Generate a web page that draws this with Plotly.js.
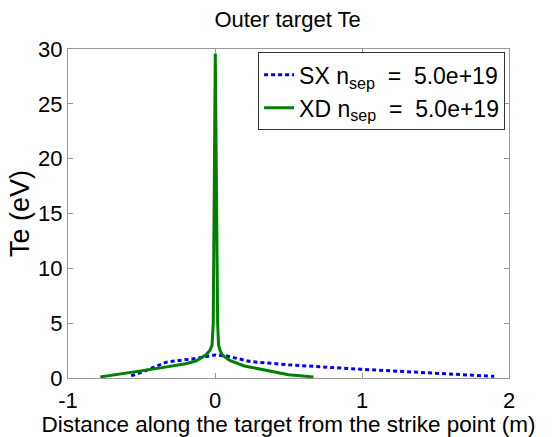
<!DOCTYPE html>
<html>
<head>
<script src="https://cdn.plot.ly/plotly-3.0.1.min.js"></script>
<style>html,body{margin:0;padding:0;background:#fff;}#chart{width:553px;height:437px;}</style>
</head>
<body>
<div id="chart"></div>
<script>
const sxX = [-0.57, -0.49, -0.33, -0.15, 0.0, 0.08, 0.24, 0.5, 0.99, 1.37, 1.9];
const sxY = [0.2, 0.57, 1.45, 1.75, 2.1, 2.0, 1.5, 1.2, 0.8, 0.5, 0.15];
const xdX = [-0.78, -0.6, -0.38, -0.2, -0.13, -0.063, -0.035, -0.02, -0.012, -0.008, -0.004, 0.002, 0.008, 0.013, 0.018, 0.024, 0.035, 0.05, 0.1, 0.2, 0.3, 0.4, 0.5, 0.67];
const xdY = [0.1, 0.45, 0.9, 1.3, 1.55, 2.1, 2.5, 3.0, 5, 12, 22, 29.6, 20, 10, 5, 3.0, 2.5, 2.1, 1.6, 1.1, 0.85, 0.55, 0.3, 0.1];
const labels = ['SX n<sub>sep</sub>  =  5.0e+19', 'XD n<sub>sep</sub>  =  5.0e+19'];

const FONT = 'Liberation Sans, Arial, sans-serif';
const traces = [
  {x: sxX, y: sxY, mode: 'lines', name: labels[0], line: {color: '#0000ff', width: 3, dash: '4px,3px'}},
  {x: xdX, y: xdY, mode: 'lines', name: labels[1], line: {color: '#008000', width: 3}}
];
const axcommon = {
  showgrid: false, zeroline: false, showline: true, linecolor: '#999', linewidth: 1,
  mirror: 'ticks', ticks: 'inside', ticklen: 5, tickcolor: '#999',
  tickfont: {family: FONT, size: 22, color: '#000'}
};
const layout = {
  width: 553, height: 437,
  margin: {l: 68, r: 44, t: 49, b: 59},
  paper_bgcolor: '#fff', plot_bgcolor: '#fff',
  title: {text: 'Outer target Te', font: {family: FONT, size: 22, color: '#000'}, x: 0.52, xanchor: 'center', y: 0.955, yanchor: 'middle'},
  xaxis: Object.assign({}, axcommon, {range: [-1, 2], tickvals: [-1, 0, 1, 2], ticktext: ['-1', '0', '1', '2'], ticklabelstandoff: 3,
    title: {text: 'Distance along the target from the strike point (m)', font: {family: FONT, size: 22.5, color: '#000'}, standoff: 0}}),
  yaxis: Object.assign({}, axcommon, {range: [0, 30], tickvals: [0, 5, 10, 15, 20, 25, 30], ticklabelstandoff: 0,
    title: {text: 'Te (eV)', font: {family: FONT, size: 27, color: '#000'}, standoff: 0}}),
  showlegend: true,
  legend: {x: 0.431, y: 0.99, xanchor: 'left', yanchor: 'top', bordercolor: '#333', borderwidth: 1, bgcolor: '#fff',
    font: {family: FONT, size: 23, color: '#000'}, tracegroupgap: 0, itemwidth: 30}
};
Plotly.newPlot('chart', traces, layout, {displayModeBar: false, staticPlot: true});
</script>
</body>
</html>
